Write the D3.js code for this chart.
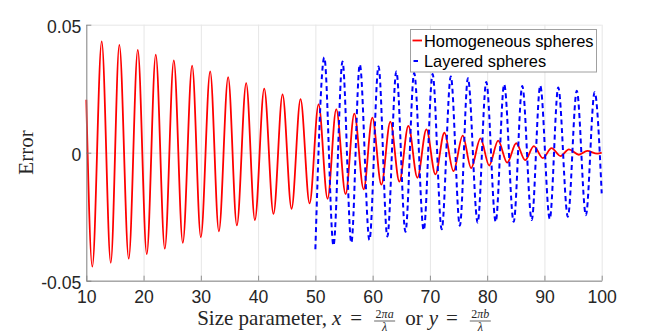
<!DOCTYPE html>
<html>
<head>
<meta charset="utf-8">
<script src="https://cdn.jsdelivr.net/npm/d3@7"></script>
<style>
  body { margin: 0; background: #fff; }
  svg { display: block; }
  .tick text { font-family: "Liberation Sans", Arial, sans-serif; fill: #262626; }
</style>
</head>
<body>
<div id="chart"></div>
<script>
// red curve: start, then alternating troughs / peaks
var homX = [10, 11.05, 12.69, 14.27, 15.77, 17.41, 18.99, 20.56, 22.13, 23.71, 25.28, 26.85, 28.48, 30.00,
  31.63, 33.15, 34.77, 36.29, 37.92, 39.44, 41.07, 42.69, 44.27, 45.84, 47.41, 48.99, 50.56, 52.13,
  53.65, 55.28, 56.80, 58.43, 59.95, 61.52, 63.09, 64.67, 66.24, 67.82, 69.39, 70.96, 72.53, 74.11,
  75.73, 77.20, 78.83, 80.35, 81.92, 83.50, 85.07, 86.64, 88.15, 89.72, 91.24, 92.81, 94.27, 96.01,
  97.48, 99.23, 100];
var homY = [0.0207, -0.0445, 0.0435, -0.0430, 0.0421, -0.0414, 0.0402, -0.0396, 0.0383, -0.0375, 0.0361,
  -0.0352, 0.0340, -0.0330, 0.0318, -0.0307, 0.0295, -0.0284, 0.0272, -0.0263, 0.0250, -0.0239, 0.0228,
  -0.0219, 0.0209, -0.0198, 0.0189, -0.0180, 0.0170, -0.0162, 0.0153, -0.0143, 0.0137, -0.0125, 0.0121,
  -0.0113, 0.0105, -0.0098, 0.0091, -0.0085, 0.0078, -0.0072, 0.0067, -0.0060, 0.0056, -0.0050, 0.0047,
  -0.0039, 0.0037, -0.0029, 0.0026, -0.0021, 0.0018, -0.0013, 0.0013, -0.0008, 0.0007, -0.0004, 0.0000];

// blue dashed curve
var layX = [50.00, 51.56, 53.16, 54.74, 56.28, 57.76, 59.44, 61.03, 62.57, 64.14, 65.73, 67.25, 68.92,
  70.47, 72.06, 73.65, 75.23, 76.64, 78.34, 79.84, 81.49, 82.97, 84.63, 86.13, 87.78, 89.27, 90.93,
  92.41, 94.09, 95.65, 97.24, 98.76, 100.00];
var layY = [-0.0377, 0.0372, -0.0363, 0.0356, -0.0352, 0.0345, -0.0341, 0.0337, -0.0327, 0.0317, -0.0309,
  0.0311, -0.0303, 0.0307, -0.0299, 0.0298, -0.0285, 0.0291, -0.0273, 0.0276, -0.0270, 0.0267, -0.0270,
  0.0261, -0.0263, 0.0262, -0.0259, 0.0255, -0.0250, 0.0242, -0.0244, 0.0236, -0.0159];

var xTicks = [10, 20, 30, 40, 50, 60, 70, 80, 90, 100];
var yTicks = [-0.05, 0, 0.05];
var yTickLabels = ["-0.05", "0", "0.05"];
var seriesNames = ["Homogeneous spheres", "Layered spheres"];

var W = 664, H = 334;
var mLeft = 86.3, mRight = 601.7, mTop = 24.7, mBottom = 280.7;

var svg = d3.select("#chart").append("svg")
    .attr("width", W)
    .attr("height", H);

svg.append("rect").attr("width", W).attr("height", H).attr("fill", "#fff");

var x = d3.scaleLinear().domain([10, 100]).range([mLeft, mRight]);
var y = d3.scaleLinear().domain([-0.05, 0.05]).range([mBottom, mTop]);

//grid lines
svg.append("g")
    .attr("transform", "translate(0," + mBottom + ")")
    .call(d3.axisBottom(x).tickValues(xTicks).tickSize(-(mBottom - mTop)).tickFormat(""))
    .call(function(g) {
        g.select(".domain").remove();
        g.selectAll("line").attr("stroke", "#e6e6e6").attr("stroke-width", 1);
    });
svg.append("g")
    .attr("transform", "translate(" + mLeft + ",0)")
    .call(d3.axisLeft(y).tickValues(yTicks).tickSize(-(mRight - mLeft)).tickFormat(""))
    .call(function(g) {
        g.select(".domain").remove();
        g.selectAll("line").attr("stroke", "#e6e6e6").attr("stroke-width", 1);
    });

//curves
var line = d3.line()
    .x(function(d) { return x(d[0]); })
    .y(function(d) { return y(d[1]); })
    .curve(d3.curveMonotoneX);

svg.append("path")
    .datum(d3.zip(homX, homY))
    .attr("fill", "none")
    .attr("stroke", "#ff0000")
    .attr("stroke-width", 1.8)
    .attr("d", line);

svg.append("path")
    .datum(d3.zip(layX, layY))
    .attr("fill", "none")
    .attr("stroke", "#0000ff")
    .attr("stroke-width", 2)
    .attr("stroke-dasharray", "5,3.5")
    .attr("d", line);

//axes
var xAxis = svg.append("g")
    .attr("transform", "translate(0," + mBottom + ")")
    .call(d3.axisBottom(x).tickValues(xTicks).tickSize(-5).tickPadding(10).tickSizeOuter(0));
xAxis.selectAll("text").attr("font-size", "17.6px").attr("dy", "0.71em");
xAxis.select(".domain").attr("stroke", "#a8a8a8").attr("stroke-width", 1.5);
xAxis.selectAll(".tick line").attr("stroke", "#777").attr("stroke-width", 0.8);

var yAxis = svg.append("g")
    .attr("transform", "translate(" + mLeft + ",0)")
    .call(d3.axisLeft(y).tickValues(yTicks).tickSize(-5).tickPadding(5).tickSizeOuter(0)
        .tickFormat(function(d, i) { return yTickLabels[i]; }));
yAxis.selectAll("text").attr("font-size", "17.6px").attr("dy", "0.42em");
yAxis.select(".domain").attr("stroke", "#888").attr("stroke-width", 1);
yAxis.selectAll(".tick line").attr("stroke", "#777").attr("stroke-width", 0.8);

//y label
svg.append("text")
    .attr("transform", "translate(33,152.5) rotate(-90)")
    .attr("text-anchor", "middle")
    .attr("font-family", "'Liberation Serif', serif")
    .attr("font-size", "21px")
    .attr("fill", "#262626")
    .text("Error");

//x label, laid out piece by piece
var serif = "'Liberation Serif', serif";
var labelBase = 325;
var pieces = [
    {t: "Size parameter,", gap: 0},
    {t: "x", it: true, gap: 5},
    {t: "=", gap: 9},
    {num: ["2", "πa"], den: "λ", gap: 12},
    {t: "or", gap: 10},
    {t: "y", it: true, gap: 6},
    {t: "=", gap: 8},
    {num: ["2", "πb"], den: "λ", gap: 12}
];
var lab = svg.append("g").attr("fill", "#262626").attr("font-family", serif);
var cx = 0;
pieces.forEach(function(p) {
    cx += p.gap;
    if (p.t) {
        var t = lab.append("text").attr("x", cx).attr("y", labelBase)
            .attr("font-size", "21px")
            .attr("font-style", p.it ? "italic" : "normal")
            .text(p.t);
        cx += t.node().getComputedTextLength();
    } else {
        var n = lab.append("text").attr("y", labelBase - 7).attr("font-size", "12px")
            .attr("text-anchor", "middle");
        n.append("tspan").text(p.num[0]);
        n.append("tspan").attr("font-style", "italic").text(p.num[1]);
        var d = lab.append("text").attr("y", labelBase + 5.5).attr("font-size", "12px")
            .attr("font-style", "italic").attr("text-anchor", "middle").text(p.den);
        var w = Math.max(n.node().getComputedTextLength(), d.node().getComputedTextLength()) + 3;
        n.attr("x", cx + w / 2);
        d.attr("x", cx + w / 2);
        lab.append("line").attr("x1", cx).attr("x2", cx + w)
            .attr("y1", labelBase - 4).attr("y2", labelBase - 4)
            .attr("stroke", "#262626").attr("stroke-width", 0.7);
        cx += w;
    }
});
lab.attr("transform", "translate(" + ((mLeft + mRight) / 2 - cx / 2) + ",0)");

//legend
var legend = svg.append("g");
legend.append("rect")
    .attr("x", 410.5).attr("y", 29.5).attr("width", 186).attr("height", 42.5)
    .attr("fill", "#fff").attr("stroke", "#a0a0a0").attr("stroke-width", 1);
var legColors = ["#ff0000", "#0000ff"];
seriesNames.forEach(function(name, i) {
    var ly = 40.5 + i * 20.5;
    legend.append("line")
        .attr("x1", i == 0 ? 412.5 : 413.5).attr("x2", i == 0 ? 422 : 418)
        .attr("y1", ly).attr("y2", ly)
        .attr("stroke", legColors[i]).attr("stroke-width", i == 0 ? 1.8 : 2);
    legend.append("text")
        .attr("x", 424).attr("y", ly + 6.2)
        .attr("font-family", "'Liberation Sans', Arial, sans-serif")
        .attr("font-size", "16.4px")
        .attr("fill", "#000")
        .text(name);
});
</script>
</body>
</html>
